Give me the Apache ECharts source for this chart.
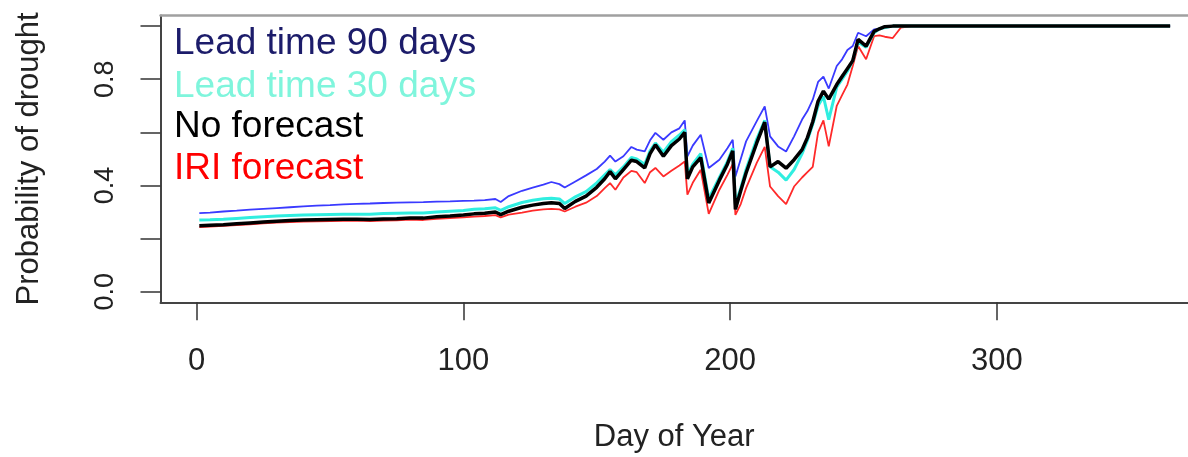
<!DOCTYPE html>
<html>
<head>
<meta charset="utf-8">
<script src="https://cdn.jsdelivr.net/npm/echarts@6/dist/echarts.min.js"></script>
<style>
html,body{margin:0;padding:0;background:#fff;}
#chart{width:1188px;height:457px;}
</style>
</head>
<body>
<div id="chart"></div>
<script>
// ---- data ----
var days = [
  1,5,10,15,20,25,30,35,40,45,
  50,55,60,65,70,75,80,85,90,95,
  100,104,108,112,114,117,122,126,130,133,
  136,138,142,146,150,153,155,157,160,163,
  165,168,170,172,175,178,181,183,184,186,
  189,192,196,199,201,202,204,206,210,213,
  215,218,221,224,227,229,231,233,235,237,
  240,242,244,246,248,251,254,256,258,261,
  264,268,300,365];

var lead90 = [
  0.296,0.298,0.302,0.305,0.309,0.312,0.315,0.318,0.321,0.324,
  0.326,0.329,0.331,0.332,0.334,0.335,0.336,0.337,0.339,0.340,
  0.342,0.343,0.345,0.349,0.338,0.360,0.380,0.392,0.403,0.413,
  0.405,0.392,0.415,0.438,0.462,0.490,0.512,0.490,0.510,0.545,
  0.535,0.528,0.570,0.598,0.572,0.600,0.615,0.645,0.510,0.550,
  0.591,0.466,0.497,0.540,0.572,0.434,0.500,0.566,0.642,0.698,
  0.585,0.547,0.528,0.585,0.648,0.680,0.723,0.790,0.810,0.765,
  0.850,0.875,0.910,0.925,0.975,0.962,0.988,0.990,0.995,1.000,
  1.000,1.000,1.000,1.000];

var lead30 = [
  0.270,0.271,0.273,0.276,0.279,0.282,0.285,0.287,0.289,0.290,
  0.291,0.292,0.292,0.292,0.294,0.295,0.296,0.296,0.300,0.303,
  0.306,0.310,0.312,0.316,0.306,0.320,0.336,0.344,0.350,0.352,
  0.349,0.332,0.357,0.377,0.410,0.440,0.460,0.440,0.470,0.505,
  0.500,0.480,0.530,0.560,0.525,0.565,0.590,0.610,0.440,0.480,
  0.520,0.350,0.430,0.490,0.540,0.330,0.390,0.460,0.575,0.645,
  0.470,0.450,0.420,0.460,0.520,0.570,0.630,0.700,0.735,0.648,
  0.770,0.800,0.830,0.870,0.940,0.920,0.975,0.990,0.995,1.000,
  1.000,1.000,1.000,1.000];

var noForecast = [
  0.248,0.250,0.252,0.256,0.259,0.262,0.265,0.268,0.270,0.271,
  0.272,0.273,0.273,0.272,0.274,0.275,0.277,0.277,0.282,0.285,
  0.289,0.293,0.295,0.300,0.290,0.303,0.318,0.326,0.332,0.335,
  0.332,0.313,0.340,0.360,0.393,0.425,0.452,0.425,0.460,0.495,
  0.490,0.466,0.520,0.553,0.510,0.550,0.575,0.600,0.425,0.470,
  0.505,0.334,0.420,0.480,0.530,0.310,0.380,0.447,0.560,0.638,
  0.470,0.490,0.465,0.497,0.535,0.580,0.640,0.717,0.755,0.725,
  0.780,0.810,0.840,0.870,0.950,0.925,0.980,0.990,0.998,1.000,
  1.000,1.000,1.000,1.000];

var iriForecast = [
  0.243,0.245,0.248,0.251,0.254,0.257,0.260,0.262,0.264,0.265,
  0.266,0.267,0.268,0.266,0.268,0.269,0.271,0.270,0.274,0.277,
  0.280,0.283,0.285,0.288,0.280,0.290,0.298,0.305,0.310,0.312,
  0.310,0.302,0.320,0.335,0.360,0.390,0.409,0.384,0.430,0.455,
  0.450,0.409,0.450,0.466,0.434,0.455,0.475,0.490,0.365,0.410,
  0.459,0.293,0.384,0.440,0.480,0.289,0.330,0.390,0.485,0.545,
  0.396,0.360,0.330,0.396,0.430,0.450,0.470,0.600,0.645,0.547,
  0.700,0.740,0.780,0.850,0.925,0.875,0.962,0.965,0.960,0.955,
  0.994,1.000,1.000,1.000];

var xTicks = [0,100,200,300];
var yTicks = [0,0.2,0.4,0.6,0.8,1.0];
var yLabels = [0,0.4,0.8];

var legendNames = ['Lead time 90 days','Lead time 30 days','No forecast','IRI forecast'];

function pairs(v){ return days.map(function(d,i){ return [d, v[i]]; }); }

var FONT = 'Liberation Sans, Arial, sans-serif';
var chart = echarts.init(document.getElementById('chart'), null, {renderer:'canvas'});

var legendColors = ['#1c1c6a','#7ff5dc','#000000','#ff0000'];
var legendY = [45, 88.5, 128.5, 170];

var XMIN = -13.56, XMAX = 371.7;

chart.setOption({
  animation:false,
  backgroundColor:'#ffffff',
  grid:{left:160.5, top:15.5, right:0, bottom:154.7, show:false, containLabel:false, outerBoundsMode:'none'},
  xAxis:[{
    type:'value', min:XMIN, max:XMAX, position:'bottom',
    name:'Day of Year', nameLocation:'middle', nameGap:120,
    nameTextStyle:{fontFamily:FONT, fontSize:31, color:'#222'},
    axisLine:{show:true, onZero:false, lineStyle:{color:'#444', width:2}},
    axisTick:{show:true, length:18, customValues:xTicks, lineStyle:{color:'#333', width:1.5}},
    axisLabel:{show:true, customValues:xTicks, margin:44, fontFamily:FONT, fontSize:31, color:'#222'},
    splitLine:{show:false}
  },{
    type:'value', min:XMIN, max:XMAX, position:'top',
    axisLine:{show:true, onZero:false, lineStyle:{color:'#a0a0a0', width:2.5}},
    axisTick:{show:false}, axisLabel:{show:false}, splitLine:{show:false}
  }],
  yAxis:{
    type:'value', min:-0.04, max:1.04,
    name:'Probability of drought', nameLocation:'middle', nameGap:116, nameRotate:90,
    nameTextStyle:{fontFamily:FONT, fontSize:31, color:'#222'},
    axisLine:{show:true, onZero:false, lineStyle:{color:'#444', width:2}},
    axisTick:{show:true, length:20, customValues:yTicks, lineStyle:{color:'#333', width:1.5}},
    axisLabel:{show:true, customValues:yLabels, rotate:90, margin:41, fontFamily:FONT, fontSize:27, color:'#222',
      formatter:function(v){ return Number(v).toFixed(1); }},
    splitLine:{show:false}
  },
  series:[
    {name:legendNames[0], type:'line', data:pairs(lead90), symbol:'none', z:2, lineStyle:{color:'#3a3aff', width:1.8}},
    {name:legendNames[3], type:'line', data:pairs(iriForecast), symbol:'none', z:3, lineStyle:{color:'#ff2a2a', width:1.8}},
    {name:legendNames[1], type:'line', data:pairs(lead30), symbol:'none', z:4, lineStyle:{color:'#30eee0', width:3}},
    {name:legendNames[2], type:'line', data:pairs(noForecast), symbol:'none', z:5, lineStyle:{color:'#000000', width:3.5}}
  ],
  graphic: legendNames.map(function(n,i){
    return {type:'text', left:174, top:legendY[i]-20, z:100,
      style:{text:n, fill:legendColors[i], font:'37px ' + FONT, textVerticalAlign:'top'}};
  })
});
</script>
</body>
</html>
